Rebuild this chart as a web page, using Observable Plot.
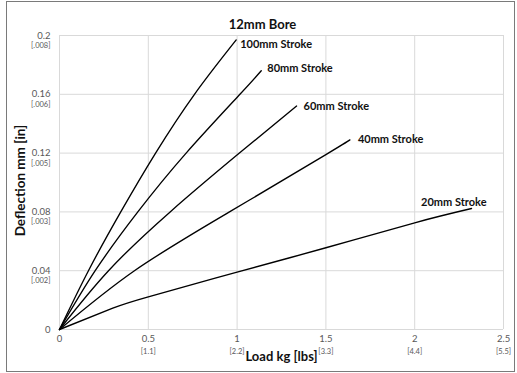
<!DOCTYPE html>
<html>
<head>
<meta charset="utf-8">
<script src="https://cdn.jsdelivr.net/npm/d3@7"></script>
<script src="https://cdn.jsdelivr.net/npm/@observablehq/plot@0.6"></script>
<style>
  html, body { margin: 0; padding: 0; background: #fff; }
  #wrap { position: relative; width: 517px; height: 373px; }
  #border { position: absolute; left: 6px; top: 1px; width: 507px; height: 369px; border: 1.5px solid #7a7a7a; pointer-events: none; }
</style>
</head>
<body>
<div id="wrap"><div id="border"></div></div>
<script>
// ---- data ----
const title = "12mm Bore";
const xTitle = "Load kg [lbs]";
const yTitle = "Deflection mm [in]";

const seriesNames = ["100mm Stroke", "80mm Stroke", "60mm Stroke", "40mm Stroke", "20mm Stroke"];

const load100 = [0, 0.163, 0.345, 0.541, 0.76, 0.995];
const defl100 = [0, 0.04, 0.08, 0.12, 0.16, 0.197];
const load80  = [0, 0.201, 0.441, 0.713, 1.016, 1.136];
const defl80  = [0, 0.04, 0.08, 0.12, 0.16, 0.176];
const load60  = [0, 0.276, 0.623, 1.013, 1.335];
const defl60  = [0, 0.04, 0.08, 0.12, 0.152];
const load40  = [0, 0.422, 0.957, 1.5, 1.635];
const defl40  = [0, 0.04, 0.08, 0.119, 0.129];
const load20  = [0, 0.3, 0.5, 1.0, 1.5, 2.0, 2.32];
const defl20  = [0, 0.0145, 0.0222, 0.039, 0.0556, 0.0726, 0.0823];

const xTicks = [0, 0.5, 1, 1.5, 2, 2.5];
const xTickLabels = ["0", "0.5", "1", "1.5", "2", "2.5"];
const xSubLabels = ["", "[1.1]", "[2.2]", "[3.3]", "[4.4]", "[5.5]"];
const yTicks = [0, 0.04, 0.08, 0.12, 0.16, 0.2];
const yTickLabels = ["0", "0.04", "0.08", "0.12", "0.16", "0.2"];
const ySubLabels = ["", "[.002]", "[.003]", "[.005]", "[.006]", "[.008]"];

// ---- build table ----
const loads = [load100, load80, load60, load40, load20];
const defls = [defl100, defl80, defl60, defl40, defl20];
const rows = [];
seriesNames.forEach((s, i) => loads[i].forEach((x, j) => rows.push({series: s, load: x, defl: defls[i][j]})));
const xt = xTicks.map((v, i) => ({v, main: xTickLabels[i], sub: xSubLabels[i]}));
const yt = yTicks.map((v, i) => ({v, main: yTickLabels[i], sub: ySubLabels[i]}));

// label placement (style)
const labelStyle = {
  "100mm Stroke": {dx: 4, dy: 5, anchor: "start"},
  "80mm Stroke": {dx: 6, dy: -2, anchor: "start"},
  "60mm Stroke": {dx: 7, dy: 0, anchor: "start"},
  "40mm Stroke": {dx: 8, dy: 0, anchor: "start"},
  "20mm Stroke": {dx: 15, dy: -6, anchor: "end"}
};

const FONT = "Lato, 'Open Sans', sans-serif";
const tickColor = "#595959";

const labelMarks = seriesNames.map(s => Plot.text(rows.filter(r => r.series === s), Plot.selectLast({
  x: "load", y: "defl", text: "series",
  dx: labelStyle[s].dx, dy: labelStyle[s].dy, textAnchor: labelStyle[s].anchor,
  fontWeight: "bold", fontSize: 11, fill: "#111"
})));

const chart = Plot.plot({
  width: 517,
  height: 373,
  marginLeft: 59,
  marginRight: 14,
  marginTop: 35,
  marginBottom: 44,
  style: {fontFamily: FONT, background: "transparent"},
  x: {domain: [0, 2.5], axis: null},
  y: {domain: [0, 0.2], axis: null},
  marks: [
    Plot.gridX(xTicks, {stroke: "#d9d9d9", strokeOpacity: 1, strokeWidth: 1}),
    Plot.gridY(yTicks, {stroke: "#d9d9d9", strokeOpacity: 1, strokeWidth: 1}),
    // x tick labels
    Plot.text(xt, {x: "v", text: "main", frameAnchor: "bottom", dy: 12, fontSize: 9.5, fill: tickColor}),
    Plot.text(xt, {x: "v", text: "sub", frameAnchor: "bottom", dy: 24, fontSize: 7.5, fill: tickColor}),
    // y tick labels
    Plot.text(yt, {y: "v", text: "main", frameAnchor: "left", dx: -9, textAnchor: "end", fontSize: 9.5, fill: tickColor}),
    Plot.text(yt, {y: "v", text: "sub", frameAnchor: "left", dx: -9, dy: 10, textAnchor: "end", fontSize: 7.5, fill: tickColor}),
    // curves
    Plot.line(rows, {x: "load", y: "defl", z: "series", stroke: "#000", strokeWidth: 1.35, curve: "natural"}),
    ...labelMarks,
    // titles
    Plot.text([title], {frameAnchor: "top", dx: -19, dy: -16, fontSize: 13, fontWeight: "bold", fill: "#111"}),
    Plot.text([xTitle], {frameAnchor: "bottom", dy: 31, fontSize: 13, fontWeight: "bold", fill: "#111"}),
    Plot.text([yTitle], {frameAnchor: "left", dx: -39, dy: -2, rotate: -90, textAnchor: "middle", fontSize: 13.5, fontWeight: "bold", fill: "#111"})
  ]
});
document.getElementById("wrap").prepend(chart);
</script>
</body>
</html>
